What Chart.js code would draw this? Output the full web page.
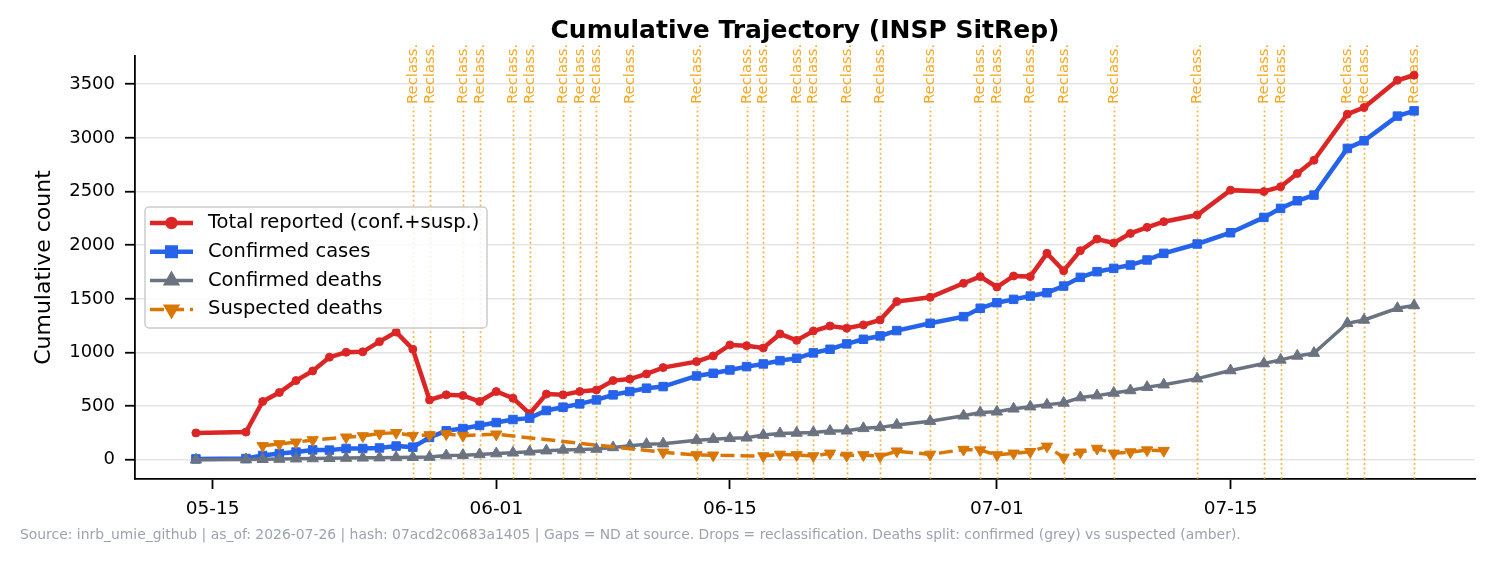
<!DOCTYPE html>
<html>
<head>
<meta charset="utf-8">
<script src="https://cdn.jsdelivr.net/npm/chart.js@4.4.1/dist/chart.umd.min.js"></script>
<style>
  html, body { margin: 0; padding: 0; background: #fff; }
  #wrap { width: 1495px; height: 563px; }
</style>
</head>
<body>
<div id="wrap"><canvas id="trajectory" width="1495" height="563"></canvas></div>
<script>
// Report dates (MM-DD, 2026). Missing days = ND at source.
const dates = [
  '05-14', '05-17', '05-18', '05-19', '05-20', '05-21', '05-22', '05-23', '05-24', '05-25',
  '05-26', '05-27', '05-28', '05-29', '05-30', '05-31', '06-01', '06-02', '06-03', '06-04',
  '06-05', '06-06', '06-07', '06-08', '06-09', '06-10', '06-11', '06-13', '06-14', '06-15',
  '06-16', '06-17', '06-18', '06-19', '06-20', '06-21', '06-22', '06-23', '06-24', '06-25',
  '06-27', '06-29', '06-30', '07-01', '07-02', '07-03', '07-04', '07-05', '07-06', '07-07',
  '07-08', '07-09', '07-10', '07-11', '07-13', '07-15', '07-17', '07-18', '07-19', '07-20',
  '07-22', '07-23', '07-25', '07-26'
];

const totalReported = [
  250, 258, 543, 627, 738, 828, 956, 1002, 1006, 1101,
  1190, 1030, 558, 605, 599, 543, 636, 574, 430, 612,
  605, 636, 650, 738, 752, 800, 859, 915, 968, 1070,
  1063, 1042, 1173, 1113, 1200, 1247, 1226, 1257, 1303, 1474,
  1514, 1645, 1707, 1610, 1713, 1707, 1924, 1762, 1949, 2057,
  2020, 2110, 2166, 2219, 2281, 2513, 2500, 2544, 2668, 2792,
  3221, 3283, 3537, 3584
];

const confirmedCases = [
  8, 12, 40, 58, 72, 92, 90, 105, 105, 110,
  128, 118, 208, 270, 291, 320, 347, 375, 388, 459,
  490, 521, 558, 605, 636, 667, 682, 781, 806, 837,
  868, 893, 924, 946, 996, 1030, 1080, 1123, 1154, 1204,
  1272, 1334, 1412, 1464, 1495, 1526, 1557, 1619, 1700, 1753,
  1784, 1815, 1862, 1924, 2011, 2116, 2259, 2343, 2414, 2467,
  2902, 2973, 3203, 3252
];

const confirmedDeaths = [
  0, 2, 5, 7, 10, 12, 14, 16, 18, 20,
  22, 24, 25, 40, 43, 50, 58, 65, 75, 85,
  92, 95, 100, 115, 130, 145, 150, 183, 192, 200,
  205, 230, 245, 250, 255, 268, 270, 293, 302, 325,
  360, 410, 440, 447, 475, 495, 512, 530, 580, 598,
  622, 646, 677, 700, 756, 832, 897, 931, 968, 994,
  1272, 1303, 1412, 1438
];

const suspectedDeaths = [
  null, null, 130, 148, 163, 185, null, 210, 222, 245,
  252, 225, 232, 240, 225, null, 238, null, null, null,
  null, null, null, null, null, null, 70, 45, 42, null,
  null, 35, 50, 45, 35, 60, 40, 45, 32, 80,
  50, 95, 90, 45, 60, 75, 125, 22, 70, 105,
  60, 72, 90, 85, null, null, null, null, null, null,
  null, null, null, null
];

const reclassDates = [
  '05-27', '05-28', '05-30', '05-31', '06-02', '06-03', '06-05', '06-06', '06-07', '06-09',
  '06-13', '06-16', '06-17', '06-19', '06-20', '06-22', '06-24', '06-27', '06-30', '07-01',
  '07-03', '07-05', '07-08', '07-13', '07-17', '07-18', '07-22', '07-23', '07-26'
];

const xTickLabels = ['05-15', '06-01', '06-15', '07-01', '07-15'];
const yTickValues = [0, 500, 1000, 1500, 2000, 2500, 3000, 3500];

const FONT = 'DejaVu Sans';
const FOOTER = 'Source: inrb_umie_github | as_of: 2026-07-26 | hash: 07acd2c0683a1405 | Gaps = ND at source. Drops = reclassification. Deaths split: confirmed (grey) vs suspected (amber).';

// day offsets from 05-15 so the linear axis behaves like a date axis
const ORIGIN = Date.UTC(2026, 4, 15);
function dayOf(mmdd) {
  const [m, d] = mmdd.split('-').map(Number);
  return (Date.UTC(2026, m - 1, d) - ORIGIN) / 86400000;
}
function points(values) {
  return dates.map((d, i) => ({ x: dayOf(d), y: values[i] }));
}

// matplotlib-like 5% margins
const days = dates.map(dayOf);
const xSpan = days[days.length - 1] - days[0];
const allY = [].concat(totalReported, confirmedCases, confirmedDeaths, suspectedDeaths).filter(v => v !== null);
const yLo = Math.min(...allY), yHi = Math.max(...allY);
const ySpan = yHi - yLo;

const reclassPlugin = {
  id: 'reclass',
  beforeDatasetsDraw(chart) {
    const { ctx, chartArea, scales: { x } } = chart;
    ctx.save();
    reclassDates.forEach(d => {
      const px = Math.round(x.getPixelForValue(dayOf(d))) + 0.5;
      ctx.strokeStyle = 'rgba(245, 158, 11, 0.75)';
      ctx.lineWidth = 1.7;
      ctx.setLineDash([2, 2.7]);
      ctx.beginPath();
      ctx.moveTo(px, chartArea.bottom);
      ctx.lineTo(px, chartArea.top + 51);
      ctx.stroke();

      ctx.save();
      ctx.translate(px, chartArea.top + 48);
      ctx.rotate(-Math.PI / 2);
      ctx.fillStyle = 'rgba(245, 158, 11, 0.9)';
      ctx.font = '14.8px "' + FONT + '"';
      ctx.textAlign = 'left';
      ctx.textBaseline = 'middle';
      ctx.fillText('Reclass.', 0, 0);
      ctx.restore();
    });
    ctx.restore();
  }
};

const legendPlugin = {
  id: 'mplLegend',
  afterDatasetsDraw(chart) {
    const { ctx, chartArea } = chart;
    const left = chartArea.left + 10, top = 207, w = 342, h = 121, rowH = 28.8;
    ctx.save();
    ctx.beginPath();
    ctx.roundRect(left, top, w, h, 4);
    ctx.fillStyle = 'rgba(255, 255, 255, 0.85)';
    ctx.fill();
    ctx.strokeStyle = '#cccccc';
    ctx.lineWidth = 1.5;
    ctx.stroke();

    chart.data.datasets.forEach((ds, i) => {
      const y = top + 16 + i * rowH;
      ctx.strokeStyle = ds.borderColor;
      ctx.lineWidth = ds.borderWidth;
      ctx.setLineDash(ds.borderDash || []);
      ctx.beginPath();
      ctx.moveTo(left + 5, y);
      ctx.lineTo(left + 48, y);
      ctx.stroke();
      ctx.setLineDash([]);
      ctx.fillStyle = ds.backgroundColor;
      Chart.helpers.drawPoint(ctx, {
        pointStyle: ds.pointStyle,
        rotation: ds.pointRotation || 0,
        radius: ds.pointRadius,
        borderWidth: ds.pointBorderWidth
      }, left + 26.5, y);
      ctx.fillStyle = '#000';
      ctx.font = '19.5px "' + FONT + '"';
      ctx.textAlign = 'left';
      ctx.textBaseline = 'middle';
      ctx.fillText(ds.label, left + 63, y);
    });
    ctx.restore();
  }
};

const textPlugin = {
  id: 'titleFooter',
  afterDraw(chart) {
    const { ctx, chartArea } = chart;
    ctx.save();
    ctx.fillStyle = '#000';
    ctx.font = 'bold 25px "' + FONT + '"';
    ctx.textAlign = 'center';
    ctx.textBaseline = 'middle';
    ctx.fillText('Cumulative Trajectory (INSP SitRep)', (chartArea.left + chartArea.right) / 2, 31);
    ctx.fillStyle = '#9ca3af';
    ctx.font = '13.9px "' + FONT + '"';
    ctx.textAlign = 'left';
    ctx.fillText(FOOTER, 20, 535);
    ctx.restore();
  }
};

function series(label, values, color, extra) {
  return Object.assign({
    label: label,
    data: points(values),
    borderColor: color,
    backgroundColor: color,
    pointBackgroundColor: color,
    pointBorderColor: color,
    pointBorderWidth: 1,
    tension: 0,
    spanGaps: true,
    clip: false
  }, extra);
}

new Chart(document.getElementById('trajectory'), {
  type: 'line',
  data: {
    datasets: [
      series('Total reported (conf.+susp.)', totalReported, '#dc2626',
        { borderWidth: 4.5, pointStyle: 'circle', pointRadius: 4, order: 4 }),
      series('Confirmed cases', confirmedCases, '#2563eb',
        { borderWidth: 4.5, pointStyle: 'rect', pointRadius: 6, order: 3 }),
      series('Confirmed deaths', confirmedDeaths, '#6b7280',
        { borderWidth: 3.5, pointStyle: 'triangle', pointRadius: 6.5, order: 2 }),
      series('Suspected deaths', suspectedDeaths, '#d97706',
        { borderWidth: 3.5, borderDash: [14, 6], pointStyle: 'triangle', pointRotation: 180, pointRadius: 6.5, order: 1 })
    ]
  },
  options: {
    responsive: false,
    animation: false,
    events: [],
    layout: { padding: { left: 0, right: 20, top: 56, bottom: 0 } },
    plugins: {
      legend: { display: false },
      tooltip: { enabled: false },
      title: { display: false }
    },
    scales: {
      x: {
        type: 'linear',
        min: days[0] - 0.05 * xSpan,
        max: days[days.length - 1] + 0.05 * xSpan,
        afterBuildTicks: (axis) => { axis.ticks = xTickLabels.map(l => ({ value: dayOf(l) })); },
        afterFit: (axis) => { axis.height = 84; },
        ticks: {
          callback: (v) => xTickLabels.find(l => dayOf(l) === v) || '',
          font: { family: FONT, size: 18.5 },
          color: '#000',
          padding: 9,
          maxRotation: 0
        },
        grid: { drawOnChartArea: false, drawTicks: true, tickLength: 10, tickColor: '#000', tickWidth: 1.8 },
        border: { color: '#000', width: 1.8 }
      },
      y: {
        min: yLo - 0.05 * ySpan,
        max: yHi + 0.05 * ySpan,
        afterBuildTicks: (axis) => { axis.ticks = yTickValues.map(v => ({ value: v })); },
        afterFit: (axis) => { axis.width = 135; },
        ticks: {
          callback: (v) => String(v),
          font: { family: FONT, size: 18 },
          color: '#000',
          padding: 10
        },
        grid: { color: '#e5e5e5', lineWidth: 1.5, tickLength: 10, tickColor: '#000', tickWidth: 1.8 },
        border: { color: '#000', width: 1.8 },
        title: {
          display: true,
          text: 'Cumulative count',
          font: { family: FONT, size: 22 },
          color: '#000',
          padding: { top: 31, bottom: 0 }
        }
      }
    }
  },
  plugins: [reclassPlugin, legendPlugin, textPlugin]
});
</script>
</body>
</html>
